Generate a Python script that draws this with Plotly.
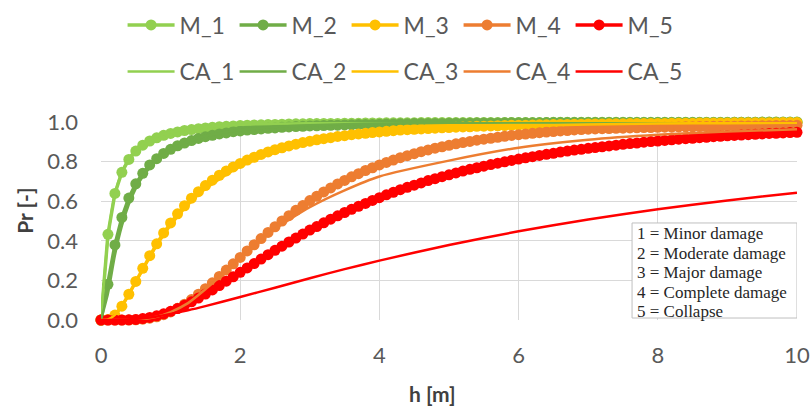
import plotly.graph_objects as go

# ---------------- data ----------------
h_m = [round(i * 0.1, 1) for i in range(101)]  # marker series sampled every 0.1 m

M_1 = [0, 0.433, 0.639, 0.746, 0.811, 0.853, 0.883, 0.904, 0.920, 0.933,
       0.942, 0.950, 0.957, 0.962, 0.966, 0.970, 0.973, 0.976, 0.978, 0.980,
       0.982, 0.984, 0.985, 0.986, 0.987, 0.988, 0.989, 0.990, 0.991, 0.991,
       0.992, 0.992, 0.993, 0.993, 0.993, 0.994, 0.994, 0.994, 0.995, 0.995,
       0.995, 0.996, 0.996, 0.996, 0.996, 0.996, 0.997, 0.997, 0.997, 0.997,
       0.997, 0.997, 0.997, 0.997, 0.998, 0.998, 0.998, 0.998, 0.998, 0.998,
       0.998, 0.998, 0.998, 0.998, 0.998, 0.999, 0.999, 0.999, 0.999, 0.999,
       0.999, 0.999, 0.999, 0.999, 0.999, 0.999, 0.999, 0.999, 0.999, 0.999,
       0.999, 0.999, 0.999, 0.999, 0.999, 0.999, 0.999, 0.999, 0.999, 0.999,
       0.999, 0.999, 0.999, 0.999, 0.999, 1.000, 1.000, 1.000, 1.000, 1.000,
       1.000]

M_2 = [0, 0.180, 0.379, 0.518, 0.616, 0.688, 0.741, 0.783, 0.815, 0.841,
       0.862, 0.880, 0.894, 0.906, 0.917, 0.926, 0.933, 0.940, 0.945, 0.951,
       0.955, 0.959, 0.962, 0.965, 0.968, 0.970, 0.973, 0.975, 0.977, 0.978,
       0.980, 0.981, 0.982, 0.983, 0.984, 0.985, 0.986, 0.987, 0.988, 0.988,
       0.989, 0.990, 0.990, 0.991, 0.991, 0.992, 0.992, 0.992, 0.993, 0.993,
       0.994, 0.994, 0.994, 0.994, 0.995, 0.995, 0.995, 0.995, 0.996, 0.996,
       0.996, 0.996, 0.996, 0.996, 0.997, 0.997, 0.997, 0.997, 0.997, 0.997,
       0.997, 0.997, 0.997, 0.998, 0.998, 0.998, 0.998, 0.998, 0.998, 0.998,
       0.998, 0.998, 0.998, 0.998, 0.998, 0.998, 0.998, 0.998, 0.998, 0.998,
       0.998, 0.999, 0.999, 0.999, 0.999, 0.999, 0.999, 0.999, 0.999, 0.999,
       0.999]

M_3 = [0, 0.003, 0.025, 0.070, 0.130, 0.195, 0.261, 0.325, 0.385, 0.440,
       0.490, 0.536, 0.577, 0.615, 0.648, 0.679, 0.706, 0.731, 0.753, 0.773,
       0.791, 0.808, 0.822, 0.836, 0.849, 0.860, 0.870, 0.879, 0.888, 0.896,
       0.903, 0.910, 0.916, 0.921, 0.927, 0.931, 0.936, 0.940, 0.943, 0.947,
       0.950, 0.953, 0.956, 0.959, 0.961, 0.963, 0.965, 0.967, 0.969, 0.971,
       0.972, 0.974, 0.975, 0.976, 0.978, 0.979, 0.980, 0.981, 0.982, 0.983,
       0.984, 0.984, 0.985, 0.986, 0.986, 0.987, 0.988, 0.988, 0.989, 0.989,
       0.990, 0.990, 0.990, 0.991, 0.991, 0.991, 0.992, 0.992, 0.992, 0.993,
       0.993, 0.993, 0.994, 0.994, 0.994, 0.994, 0.995, 0.995, 0.995, 0.995,
       0.995, 0.996, 0.996, 0.996, 0.996, 0.996, 0.996, 0.996, 0.997, 0.997,
       0.997]

M_4 = [0, 0, 0, 0, 0.000, 0.001, 0.004, 0.009, 0.016, 0.027,
       0.041, 0.059, 0.080, 0.103, 0.130, 0.158, 0.188, 0.220, 0.252, 0.284,
       0.316, 0.349, 0.380, 0.411, 0.442, 0.471, 0.500, 0.527, 0.554, 0.578,
       0.603, 0.625, 0.647, 0.667, 0.687, 0.705, 0.723, 0.739, 0.755, 0.769,
       0.783, 0.796, 0.808, 0.820, 0.830, 0.840, 0.850, 0.859, 0.868, 0.875,
       0.882, 0.890, 0.896, 0.902, 0.908, 0.913, 0.918, 0.923, 0.928, 0.932,
       0.936, 0.939, 0.943, 0.946, 0.949, 0.952, 0.955, 0.957, 0.960, 0.962,
       0.964, 0.965, 0.966, 0.967, 0.968, 0.969, 0.970, 0.971, 0.972, 0.972,
       0.973, 0.974, 0.974, 0.975, 0.976, 0.976, 0.977, 0.977, 0.978, 0.978,
       0.979, 0.979, 0.980, 0.980, 0.980, 0.981, 0.981, 0.982, 0.982, 0.982,
       0.983]

M_5 = [0, 0, 0, 0, 0.001, 0.003, 0.007, 0.013, 0.021, 0.031,
       0.044, 0.058, 0.074, 0.092, 0.111, 0.131, 0.152, 0.174, 0.196, 0.218,
       0.241, 0.263, 0.285, 0.308, 0.330, 0.352, 0.373, 0.394, 0.414, 0.434,
       0.454, 0.472, 0.491, 0.509, 0.526, 0.543, 0.559, 0.574, 0.589, 0.604,
       0.618, 0.632, 0.645, 0.658, 0.670, 0.681, 0.692, 0.704, 0.714, 0.724,
       0.733, 0.743, 0.752, 0.761, 0.769, 0.777, 0.785, 0.792, 0.799, 0.806,
       0.813, 0.819, 0.825, 0.831, 0.837, 0.842, 0.848, 0.853, 0.858, 0.862,
       0.867, 0.871, 0.875, 0.879, 0.883, 0.887, 0.891, 0.894, 0.898, 0.901,
       0.904, 0.907, 0.910, 0.913, 0.916, 0.918, 0.921, 0.923, 0.926, 0.928,
       0.930, 0.932, 0.934, 0.936, 0.938, 0.940, 0.942, 0.943, 0.945, 0.947,
       0.948]

h_ca = [0, 0.1, 0.2, 0.3, 0.4, 0.5, 0.6, 0.8, 1.0, 1.25, 1.5, 2, 2.5, 3, 3.5, 4, 5, 6, 7, 8, 9, 10]
CA_1 = [0, 0.417, 0.635, 0.748, 0.816, 0.859, 0.889, 0.927, 0.949, 0.965, 0.975, 0.986, 0.991, 0.994, 0.996, 0.997, 0.998, 0.999, 0.999, 0.999, 1.0, 1.0]
CA_2 = [0, 0.134, 0.327, 0.475, 0.584, 0.665, 0.725, 0.808, 0.861, 0.903, 0.929, 0.960, 0.975, 0.983, 0.989, 0.992, 0.996, 0.997, 0.998, 0.999, 0.999, 0.999]
CA_3 = [0, 0.003, 0.026, 0.070, 0.128, 0.191, 0.255, 0.374, 0.477, 0.581, 0.662, 0.776, 0.846, 0.892, 0.922, 0.942, 0.967, 0.980, 0.987, 0.992, 0.994, 0.996]
CA_4 = [0, 0, 0, 0, 0, 0.002, 0.004, 0.016, 0.040, 0.085, 0.155, 0.310, 0.460, 0.570, 0.655, 0.725, 0.805, 0.870, 0.910, 0.935, 0.952, 0.963]
CA_5 = [0, 0, 0, 0.001, 0.003, 0.006, 0.009, 0.018, 0.031, 0.049, 0.070, 0.116, 0.163, 0.211, 0.257, 0.300, 0.379, 0.448, 0.508, 0.559, 0.604, 0.643]

m_names = ["M_1", "M_2", "M_3", "M_4", "M_5"]
ca_names = ["CA_1", "CA_2", "CA_3", "CA_4", "CA_5"]
colors = ["#92D050", "#70AD47", "#FFC000", "#ED7D31", "#FF0000"]

x_ticks = [0, 2, 4, 6, 8, 10]
y_ticks = [0.0, 0.2, 0.4, 0.6, 0.8, 1.0]
note_lines = ["1 = Minor damage", "2 = Moderate damage", "3 = Major damage",
              "4 = Complete damage", "5 = Collapse"]

# ---------------- figure ----------------
fig = go.Figure()
for name, ys, col in zip(m_names, [M_1, M_2, M_3, M_4, M_5], colors):
    fig.add_trace(go.Scatter(
        x=h_m, y=ys, name=name, mode="lines+markers",
        line=dict(color=col, width=3.5),
        marker=dict(color=col, size=11, line=dict(width=0)),
        cliponaxis=False, legend="legend"))
for name, ys, col in zip(ca_names, [CA_1, CA_2, CA_3, CA_4, CA_5], colors):
    fig.add_trace(go.Scatter(
        x=h_ca, y=ys, name=name, mode="lines",
        line=dict(color=col, width=2.5, shape="spline", smoothing=0.6),
        cliponaxis=False, legend="legend2"))

tick_font = dict(family="Lato", size=22, color="#595959")
leg_font = dict(family="Lato", size=23, color="#595959")

fig.update_layout(
    width=811, height=408,
    margin=dict(l=101, r=14, t=122, b=88, autoexpand=False),
    paper_bgcolor="white", plot_bgcolor="white",
    showlegend=True,
    legend=dict(orientation="h", x=0.031, y=1.49, xanchor="left", yanchor="middle",
                font=leg_font, entrywidth=50, itemwidth=47, bgcolor="rgba(0,0,0,0)"),
    legend2=dict(orientation="h", x=0.031, y=1.255, xanchor="left", yanchor="middle",
                 font=leg_font, entrywidth=50, itemwidth=47, bgcolor="rgba(0,0,0,0)"),
    xaxis=dict(range=[0, 10], tickvals=x_ticks, ticktext=[str(v) for v in x_ticks],
               showgrid=True, gridcolor="#D9D9D9", gridwidth=1, zeroline=False,
               showline=False, ticks="", tickfont=tick_font, ticklabelstandoff=20),
    yaxis=dict(range=[0, 1], tickvals=y_ticks, ticktext=[f"{v:.1f}" for v in y_ticks],
               showgrid=True, gridcolor="#D9D9D9", gridwidth=1, zeroline=False,
               showline=False, ticks="", tickfont=tick_font, ticklabelstandoff=22),
)

# note box
fig.add_shape(type="rect", xref="x", yref="y", x0=7.63, x1=10.0, y0=0.01, y1=0.49,
              fillcolor="white", line=dict(color="#BFBFBF", width=1), layer="above")
note_y = [0.437, 0.338, 0.240, 0.141, 0.043]
for txt, yy in zip(note_lines, note_y):
    fig.add_annotation(x=7.67, y=yy, xref="x", yref="y", text=txt, showarrow=False,
                       xanchor="left", yanchor="middle",
                       font=dict(family="Liberation Serif", size=17, color="#262626"))

# axis titles
fig.add_annotation(x=-0.111, y=0.55, xref="paper", yref="paper", text="<b>Pr [-]</b>",
                   textangle=-90, showarrow=False, xanchor="center", yanchor="middle",
                   font=dict(family="Lato", size=21, color="#404040"))
fig.add_annotation(x=0.4756, y=-0.369, xref="paper", yref="paper", text="<b>h [m]</b>",
                   showarrow=False, xanchor="center", yanchor="middle",
                   font=dict(family="Lato", size=21, color="#404040"))

fig.write_html("out.html", config={"displayModeBar": False},
               post_script="document.body.style.margin='0';document.body.style.padding='0';")
